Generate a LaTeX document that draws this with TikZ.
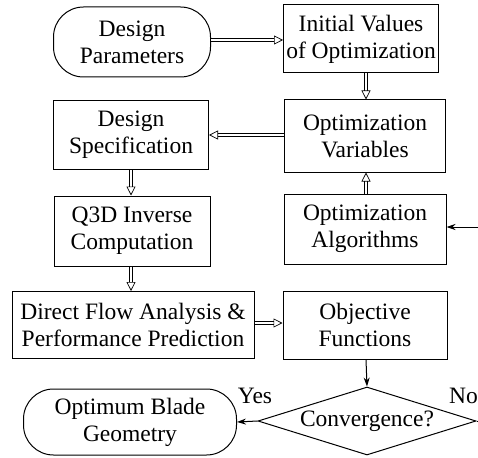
\documentclass[tikz,border=0pt]{standalone}
\usepackage{fontspec}
\setmainfont{Liberation Serif}
\usetikzlibrary{arrows.meta,shapes.geometric}
\tikzset{
  box/.style={draw,line width=1pt,align=center,inner sep=0pt,font=\fontsize{23.5}{27}\selectfont},
  term/.style={box,rounded corners=30pt},
  hollow/.style={double,double distance=2.6pt,line width=0.7pt,-{Triangle[open,length=9pt,width=9pt]}},
  solid/.style={line width=1pt,-{Stealth[length=9pt,width=6pt]}},
}
\begin{document}
\begin{tikzpicture}[x=1pt,y=-1pt]
                \useasboundingbox (0,0) rectangle (478,457);
                %% Left column
                \node[term,minimum width=157pt,minimum height=70pt] (param) at (132,42) {Design\\Parameters};
                \node[box,minimum width=155pt,minimum height=69pt] (spec) at (131,135) {Design\\Specification};
                \node[box,minimum width=156pt,minimum height=70pt] (q3d) at (132,231) {Q3D Inverse\\Computation};
                \node[box,minimum width=242pt,minimum height=67pt] (flow) at (133,325) {Direct Flow Analysis \&\\Performance Prediction};
                \node[term,minimum width=213pt,minimum height=66pt] (blade) at (130,422) {Optimum Blade\\Geometry};
                %% Right column
                \node[box,minimum width=155pt,minimum height=68pt] (init) at (361,39) {Initial Values\\of Optimization};
                \node[box,minimum width=161pt,minimum height=72pt] (vars) at (365,136) {Optimization\\Variables};
                \node[box,minimum width=162pt,minimum height=70pt] (algo) at (365,229) {Optimization\\Algorithms};
                \node[box,minimum width=164pt,minimum height=68pt] (obj) at (365,325) {Objective\\Functions};
                \node[box,diamond,aspect=3.2,minimum width=218pt,minimum height=68pt] (conv) at (367,421) {Convergence?};
                %% Labels
                \node[font=\fontsize{23.5}{27}\selectfont] (yes) at (255,396) {Yes};
                \node[font=\fontsize{23.5}{27}\selectfont,anchor=east,inner sep=0pt] (no) at (478,396) {No};
                \coordinate (back) at (492,421);
                %% Arrows
                \draw[hollow] (param.east |- 0,40) -- (init.west |- 0,40);
                \draw[hollow] (init.south -| 366,0) -- (vars.north -| 366,0);
                \draw[hollow] (vars.west |- 0,135) -- (spec.east |- 0,135);
                \draw[hollow] (spec.south -| 131,0) -- (q3d.north -| 131,0);
                \draw[hollow] (algo.north -| 366,0) -- (vars.south -| 366,0);
                \draw[hollow] (q3d.south -| 131,0) -- (flow.north -| 131,0);
                \draw[hollow] (flow.east |- 0,323) -- (obj.west |- 0,323);
                \draw[solid] (obj.south -| 366,0) -- (conv.north);
                \draw[solid] (conv.west) -- (blade.east);
                \draw[solid] (conv.east) -- (back) |- (algo.east |- 0,227);
\end{tikzpicture}
\end{document}
